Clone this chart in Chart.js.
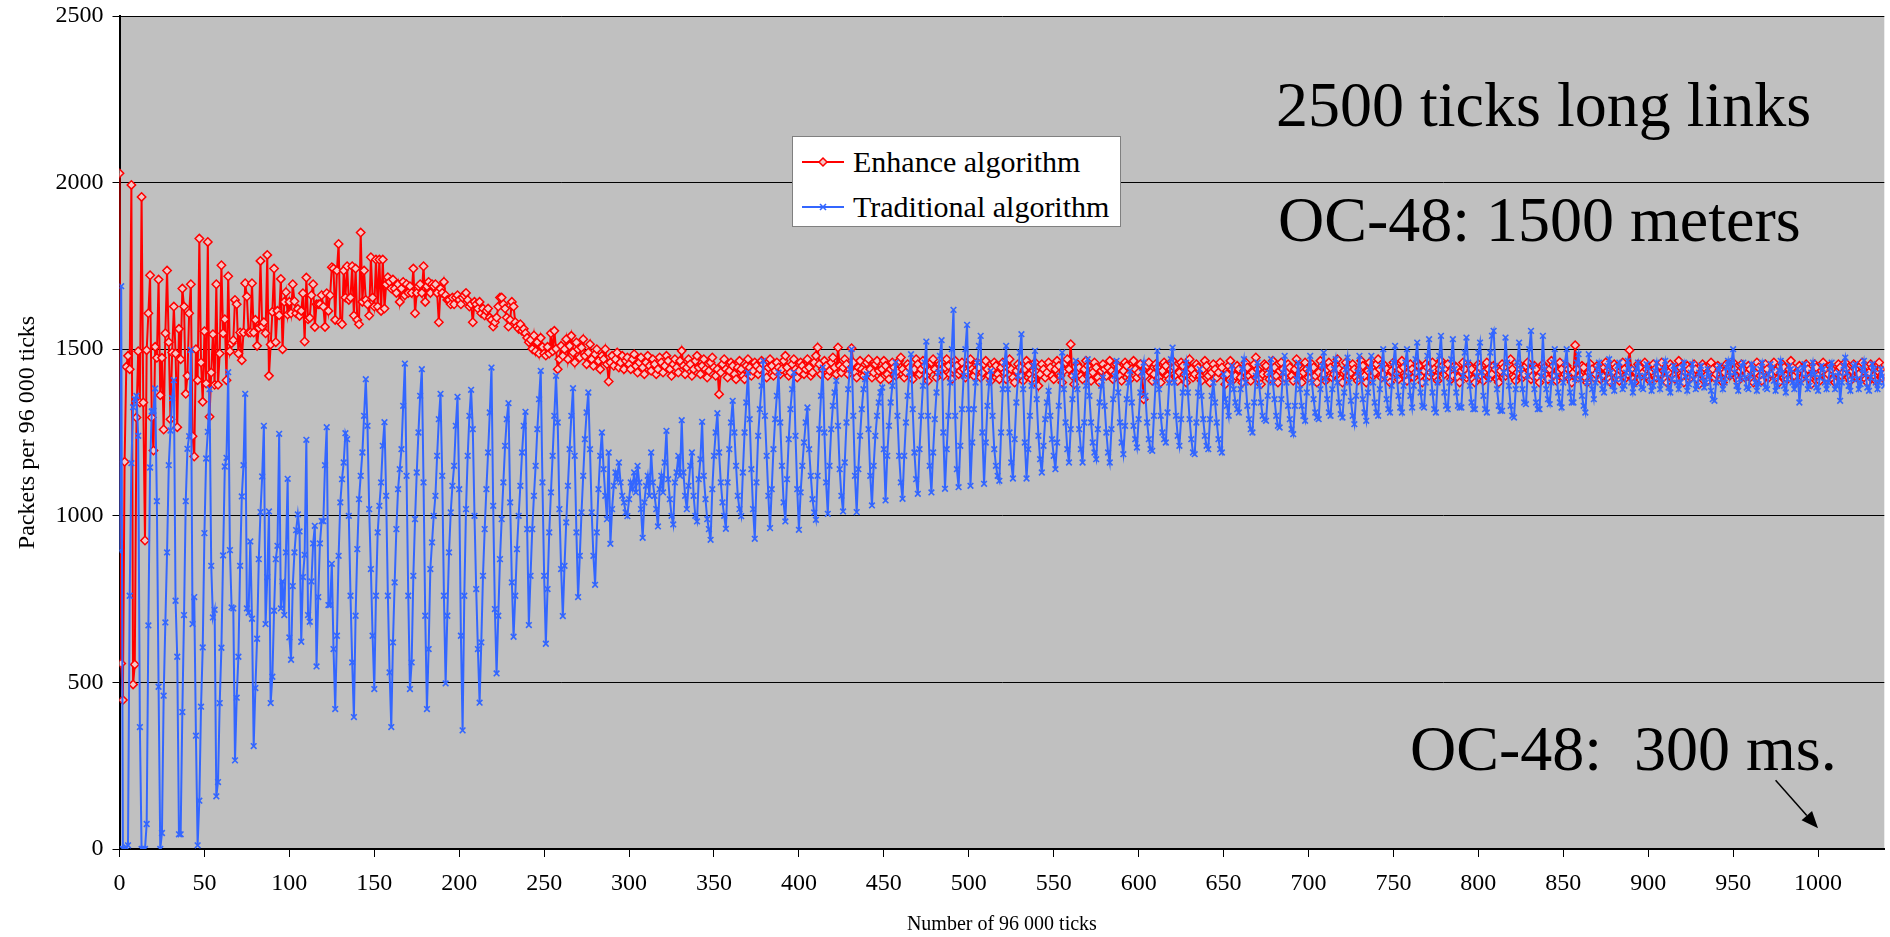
<!DOCTYPE html>
<html>
<head>
<meta charset="utf-8">
<title>Packets per 96 000 ticks</title>
<script src="https://cdn.jsdelivr.net/npm/chart.js@4.4.1/dist/chart.umd.min.js"></script>
<style>
  html, body { margin: 0; padding: 0; background: #fff; }
  #wrap { position: relative; width: 1890px; height: 937px; overflow: hidden;
          font-family: 'Liberation Serif', 'Times New Roman', serif; color: #000; }
  #chart { position: absolute; left: 0; top: 0; }
  .note { position: absolute; font-size: 64px; line-height: 64px; white-space: pre; }
  #legend { position: absolute; left: 792px; top: 136px; width: 329px; height: 91px;
            background: #fff; border: 1px solid #808080; box-sizing: border-box; }
  .item { position: absolute; left: 0; height: 30px; font-size: 30px; line-height: 30px; white-space: nowrap; }
  .item svg { position: absolute; left: 9px; top: 8px; }
  .item span { position: absolute; left: 60px; top: 0; }
</style>
</head>
<body>
<div id="wrap">
  <canvas id="chart" width="1890" height="937"></canvas>
  <div class="note" id="note1" style="left:1276px; top:73px;"></div>
  <div class="note" id="note2" style="left:1278px; top:188px;"></div>
  <div class="note" id="note3" style="left:1410px; top:717px;"></div>
  <div id="legend">
    <div class="item" style="top:10px;">
      <svg width="42" height="14"><line x1="0" y1="7" x2="42" y2="7" stroke="#ff0000" stroke-width="2"/><path d="M21 3 L25 7 L21 11 L17 7 Z" fill="#f4c6c6" stroke="#ff0000" stroke-width="1.5"/></svg>
      <span id="leg0"></span>
    </div>
    <div class="item" style="top:55px;">
      <svg width="42" height="14"><line x1="0" y1="7" x2="42" y2="7" stroke="#3366ff" stroke-width="2"/><path d="M18 4 L24 10 M24 4 L18 10" stroke="#3366ff" stroke-width="1.6"/></svg>
      <span id="leg1"></span>
    </div>
  </div>
</div>
<script>
// --- textes ---
const seriesNames = ['Enhance algorithm', 'Traditional algorithm'];
const xTitle = 'Number of 96 000 ticks';
const yTitle = 'Packets per 96 000 ticks';
const notes = ['2500 ticks long links', 'OC-48: 1500 meters', 'OC-48:  300 ms.'];

// --- axes ---
const xMax = 1039;
const xTickStep = 50;
const yMax = 2500;
const yTickStep = 500;

// flèche "300 ms." (départ / pointe, en unités du graphique)
const arrowFrom = [975, 206];
const arrowTo = [1000, 62];

// --- Enhance algorithm : un point par tick ---
const enhanceAlgorithm = [
  2028, 557, 447, 1162, 1447, 1480, 1440, 1993, 494, 554,
  1295, 1494, 1340, 1957, 1340, 926, 1497, 1608, 1722, 1295,
  1196, 1507, 1474, 1709, 1362, 1474, 1259, 1548, 1736, 1521,
  1290, 1490, 1628, 1487, 1266, 1561, 1470, 1682, 1628, 1366,
  1420, 1608, 1695, 1239, 1178, 1500, 1407, 1832, 1460, 1342,
  1554, 1397, 1822, 1297, 1430, 1545, 1393, 1695, 1393, 1487,
  1752, 1548, 1590, 1407, 1719, 1494, 1518, 1527, 1648, 1635,
  1487, 1550, 1467, 1550, 1698, 1658, 1550, 1550, 1698, 1550,
  1588, 1510, 1564, 1765, 1568, 1581, 1548, 1783, 1420, 1514,
  1612, 1742, 1521, 1615, 1602, 1711, 1500, 1642, 1671, 1604,
  1642, 1608, 1695, 1644, 1608, 1621, 1600, 1615, 1668, 1523,
  1715, 1590, 1594, 1662, 1695, 1567, 1635, 1635, 1635, 1662,
  1628, 1567, 1668, 1615, 1662, 1746,
  1742, 1588, 1736, 1816, 1581, 1575, 1736, 1655, 1749, 1648,
  1655, 1749, 1601, 1742, 1588, 1575, 1850, 1642, 1736, 1648,
  1635, 1601, 1776, 1655, 1628, 1769, 1628, 1769, 1615, 1769,
  1622, 1695, 1716, 1702, 1682, 1709, 1682, 1669, 1695, 1642,
  1682, 1702, 1662, 1695, 1669, 1689, 1669, 1742, 1608, 1669,
  1689, 1695, 1669, 1749, 1642, 1689, 1702, 1669, 1695, 1689,
  1695, 1669, 1581, 1682, 1669, 1702, 1662, 1648, 1648, 1635,
  1655, 1635, 1655, 1662, 1648, 1635, 1655, 1662, 1669, 1648,
  1628, 1635, 1581, 1642, 1635, 1622, 1642, 1608, 1622, 1601,
  1615, 1622, 1595, 1588, 1568, 1581, 1595, 1628, 1655, 1655,
  1635, 1622, 1595, 1568, 1588, 1642, 1628, 1581, 1568, 1561,
  1575, 1555, 1561, 1548, 1534, 1521, 1528, 1501, 1541, 1494,
  1521, 1487, 1534, 1507, 1487, 1481, 1507, 1487, 1548, 1494,
  1555, 1501, 1440, 1470, 1510, 1480,
  1500, 1530, 1470, 1510, 1540, 1490, 1460, 1520, 1500, 1475,
  1505, 1530, 1480, 1455, 1490, 1515, 1470, 1450, 1485, 1500,
  1465, 1440, 1480, 1470, 1500, 1455, 1403, 1460, 1480, 1450,
  1470, 1490, 1445, 1460, 1480, 1440, 1465, 1475,
  1455, 1440, 1470, 1485, 1450, 1430, 1460, 1475, 1445, 1425,
  1460, 1480, 1450, 1435, 1470, 1455, 1425, 1440, 1475, 1460,
  1430, 1450, 1480, 1465, 1440, 1420, 1455, 1470, 1445, 1430,
  1465, 1495, 1450, 1425, 1445, 1470, 1455, 1420, 1440, 1465,
  1480, 1445, 1425, 1450, 1470, 1440, 1415, 1435, 1460, 1475,
  1445, 1420, 1440, 1365, 1430, 1455, 1470, 1440, 1415, 1435,
  1460, 1450, 1425, 1410, 1445, 1465, 1440, 1420, 1410, 1450,
  1470, 1445, 1420, 1435, 1460, 1450, 1425, 1440, 1465, 1455,
  1430, 1415, 1445, 1470, 1450, 1420, 1435, 1460, 1445, 1425,
  1440, 1465, 1480, 1445, 1420, 1430, 1455, 1470, 1440, 1415,
  1435, 1460, 1450, 1425, 1440, 1470, 1445, 1420, 1430, 1460,
  1480, 1505, 1455, 1425, 1440, 1465, 1450, 1420, 1435, 1460,
  1475, 1445, 1425, 1505, 1450, 1430, 1445, 1470, 1455, 1425,
  1440, 1503, 1460, 1430, 1415, 1445, 1465, 1440, 1420, 1435,
  1460, 1470, 1440, 1415, 1430, 1455, 1465, 1435, 1410, 1440,
  1465, 1450, 1425, 1410, 1440, 1460, 1445, 1420, 1435, 1465,
  1475, 1440, 1415, 1430, 1455, 1445, 1420, 1410, 1440, 1470,
  1455, 1425, 1440, 1465, 1450, 1420, 1405, 1435, 1460, 1470,
  1440, 1415, 1430, 1455, 1440, 1420, 1445, 1470, 1450, 1425,
  1410, 1440, 1465, 1450, 1425, 1435, 1460, 1440, 1415, 1430,
  1455, 1470, 1440, 1420, 1435, 1460, 1445, 1415, 1430, 1455,
  1465, 1440, 1420, 1405, 1440, 1460, 1450, 1425, 1410, 1445,
  1460, 1430, 1410, 1445, 1470, 1440, 1415, 1400, 1435, 1455,
  1445, 1420, 1405, 1440, 1465, 1450, 1425, 1410, 1435, 1460,
  1430, 1390, 1425, 1455, 1440, 1415, 1430, 1460, 1445, 1420,
  1410, 1440, 1465, 1450, 1420, 1400, 1435, 1460, 1470, 1440,
  1515, 1420, 1395, 1430, 1455, 1445, 1420, 1410, 1440, 1465,
  1450, 1425, 1405, 1430, 1460, 1445, 1415, 1400, 1435, 1455,
  1440, 1420, 1445, 1465, 1435, 1410, 1425, 1455, 1445, 1420,
  1405, 1435, 1460, 1450, 1425, 1410, 1440, 1465, 1440, 1415,
  1430, 1455, 1420, 1350, 1420, 1450, 1460, 1430, 1405, 1425,
  1455, 1445, 1415, 1400, 1435, 1460, 1450, 1420, 1410, 1440,
  1465, 1445, 1420, 1405, 1430, 1460, 1450, 1425, 1400, 1435,
  1470, 1440, 1415, 1425, 1455, 1445, 1420, 1405, 1440, 1465,
  1450, 1420, 1400, 1430, 1455, 1440, 1415, 1430, 1460, 1445,
  1420, 1395, 1425, 1450, 1465, 1440, 1410, 1420, 1450, 1440,
  1415, 1400, 1435, 1460, 1445, 1420, 1405, 1430, 1455, 1475,
  1440, 1410, 1395, 1425, 1455, 1450, 1425, 1410, 1440, 1465,
  1445, 1420, 1400, 1435, 1460, 1440, 1415, 1430, 1455, 1445,
  1420, 1405, 1440, 1470, 1450, 1425, 1400, 1430, 1460, 1440,
  1415, 1435, 1455, 1445, 1420, 1400, 1430, 1465, 1450, 1425,
  1405, 1440, 1460, 1445, 1415, 1425, 1455, 1470, 1440, 1410,
  1400, 1435, 1460, 1445, 1420, 1430, 1455, 1440, 1415, 1405,
  1440, 1465, 1450, 1420, 1400, 1435, 1460, 1445, 1420, 1430,
  1455, 1470, 1440, 1415, 1425, 1450, 1440, 1415, 1400, 1435,
  1460, 1450, 1425, 1410, 1440, 1465, 1445, 1420, 1405, 1430,
  1455, 1440, 1415, 1430, 1460, 1450, 1420, 1400, 1435, 1455,
  1445, 1420, 1430, 1460, 1440, 1415, 1405, 1440, 1465, 1450,
  1425, 1440, 1455, 1430, 1410, 1420, 1450, 1445, 1415, 1400,
  1435, 1460, 1440, 1415, 1425, 1450, 1440, 1410, 1400, 1430,
  1455, 1445, 1420, 1405, 1435, 1460, 1440, 1415, 1425, 1450,
  1440, 1410, 1400, 1435, 1455, 1445, 1420, 1430, 1455, 1470,
  1440, 1415, 1405, 1430, 1455, 1440, 1415, 1425, 1450, 1460,
  1435, 1410, 1420, 1450, 1440, 1415, 1400, 1430, 1455, 1445,
  1420, 1410, 1440, 1465, 1450, 1420, 1405, 1435, 1460, 1440,
  1415, 1425, 1450, 1440, 1410, 1400, 1430, 1512, 1440, 1415,
  1420, 1450, 1445, 1415, 1400, 1430, 1455, 1440, 1415, 1425,
  1450, 1440, 1410, 1420, 1445, 1460, 1435, 1410, 1400, 1430,
  1455, 1445, 1420, 1405, 1435, 1460, 1440, 1415, 1425, 1497,
  1440, 1410, 1400, 1430, 1455, 1445, 1420, 1430, 1460, 1440,
  1415, 1405, 1435, 1455, 1440, 1415, 1425, 1450, 1460, 1435,
  1410, 1400, 1430, 1455, 1445, 1420, 1410, 1440, 1465, 1445,
  1420, 1400, 1430, 1450, 1440, 1415, 1425, 1455, 1440, 1410,
  1395, 1430, 1455, 1445, 1420, 1405, 1435, 1460, 1440, 1415,
  1425, 1450, 1440, 1410, 1400, 1430, 1455, 1445, 1420, 1430,
  1460, 1440, 1415, 1405, 1435, 1455, 1440, 1415, 1425, 1450,
  1440, 1410, 1400, 1430, 1460, 1445, 1420, 1405, 1435, 1455,
  1440, 1415, 1425, 1450, 1460, 1435, 1410, 1400, 1430, 1455,
  1445, 1420, 1410, 1440, 1465, 1445, 1420, 1400, 1430, 1450,
  1440, 1415, 1425, 1455, 1440, 1410, 1395, 1430, 1455, 1445,
  1420, 1405, 1435, 1460, 1440, 1415, 1425, 1450, 1440, 1410,
  1400, 1430, 1455, 1445, 1420, 1430, 1460, 1440, 1415, 1405,
  1435, 1455, 1440, 1415, 1425, 1450, 1460, 1435, 1410, 1400,
  1430, 1455, 1445, 1420, 1405, 1435, 1460, 1440, 1415, 1425
];

// --- Traditional algorithm : un point par tick ---
const traditionalAlgorithm = [
  894, 1689, 0, 0, 5, 11, 760, 1158, 1326, 1350,
  1360, 1240, 366, 0, 0, 0, 75, 671, 1145, 1313,
  1315, 1382, 1044, 487, 0, 48, 460, 680, 890, 1152,
  1256, 1353, 1407, 745, 577, 44, 44, 411, 702, 1044,
  1201, 1239, 1498, 675, 756, 340, 11, 145, 427, 605,
  948, 1172, 1252, 1380, 850, 695, 718, 158, 201, 438,
  604, 881, 1148, 1174, 1431, 897, 725, 722, 266, 454,
  577, 850, 1058, 1152, 1366, 722, 709, 923, 691, 309,
  483, 631, 870, 1011, 1118, 1270, 675, 816, 1013, 438,
  517, 715, 870, 910, 1246, 722, 803, 702, 890, 1111,
  635, 568, 789, 890, 957, 1004, 953, 622, 816, 883,
  1228, 702, 682, 803, 917, 970, 548, 756, 917, 984,
  984, 1152, 1266, 732, 732, 856, 600, 420, 640, 880,
  1040, 1110, 1160, 1248, 1230, 1000, 760, 560, 396,
  700, 900, 1050, 1120, 1190, 1300, 1410, 1270, 1020, 840, 640, 480,
  760, 950, 1030, 1100, 1210, 1281, 1060, 760, 530, 366,
  620, 800, 960, 1080, 1140, 1200, 1330, 1457, 1120, 760, 480,
  560, 820, 990, 1130, 1250, 1360, 1440, 1100, 700, 420,
  600, 840, 920, 1000, 1060, 1180, 1290, 1366, 1120, 760, 497,
  700, 890, 1010, 1090, 1150, 1270, 1357, 1080, 640, 356,
  760, 1020, 1180, 1300, 1378, 1260, 1000, 780, 600, 439,
  620, 820, 960, 1080, 1190, 1310, 1445, 1030, 720, 527,
  700, 870, 990, 1100, 1210, 1290, 1338, 1040, 800, 637,
  760, 900, 1000, 1090, 1190, 1270, 1312, 960, 672,
  820, 960, 1060, 1150, 1260, 1350, 1435, 1100, 820, 616,
  780, 950, 1070, 1180, 1300, 1420, 1280, 1020, 840, 699,
  850, 980, 1090, 1200, 1300, 1383, 1180, 950, 756,
  880, 1010, 1120, 1230, 1310, 1370, 1200, 1010, 880, 793,
  950, 1080, 1180, 1250, 1140, 1060, 990, 1190, 916, 1020,
  1090, 1130, 1110, 1160, 1100, 1060, 1040, 1010, 999,
  1050, 1100, 1080, 1130, 1070, 1150, 1100, 1020, 934, 1040,
  1090, 1120, 1060, 1190, 1100, 1060, 1020, 968, 1080, 1120,
  1070, 1160, 1255, 1110, 1050, 1000, 974, 1100, 1130, 1180,
  1120, 1287, 1130, 1060, 1020, 1090, 1150, 1190, 1060, 1000,
  983, 1110, 1170, 1282, 1120, 1050, 990, 960, 928, 1080,
  1180, 1250, 1308, 1190, 1100, 1040, 1000, 961, 1100, 1200,
  1280, 1345, 1250, 1150, 1060, 1020, 999, 1130, 1250, 1340,
  1430, 1290, 1140, 1020, 931, 1100, 1240, 1320, 1390, 1465,
  1300, 1180, 1060, 963, 1080, 1200, 1290, 1360, 1430, 1280,
  1150, 1040, 983, 1110, 1230, 1320, 1380, 1430, 1240, 1080,
  958, 1070, 1150, 1220, 1280, 1325, 1200, 1120, 1050, 1010,
  988, 1120, 1260, 1360, 1445, 1250, 1100, 1006, 1150, 1260,
  1330, 1370, 1405, 1270, 1140, 1060, 1013, 1160, 1280, 1380,
  1440, 1500, 1300, 1120, 1011, 1140, 1240, 1320, 1380, 1410,
  1425, 1260, 1120, 1031, 1150, 1240, 1300, 1340, 1370, 1385,
  1200, 1046, 1180, 1270, 1340, 1390, 1430, 1460, 1300, 1180,
  1100, 1051, 1180, 1280, 1360, 1430, 1485, 1320, 1190, 1110,
  1066, 1200, 1300, 1390, 1460, 1523, 1300, 1150, 1070, 1190,
  1290, 1370, 1430, 1480, 1527, 1250, 1081, 1200, 1300, 1400,
  1500, 1618, 1300, 1140, 1086, 1210, 1320, 1420, 1500, 1573,
  1320, 1090, 1220, 1320, 1400, 1460, 1510, 1540, 1250, 1096,
  1220, 1330, 1400, 1435, 1300, 1200, 1150, 1120, 1105, 1250,
  1380, 1460, 1510, 1380, 1250, 1160, 1112, 1230, 1340, 1420,
  1490, 1545, 1380, 1220, 1112, 1200, 1300, 1390, 1450, 1495,
  1350, 1240, 1170, 1130, 1210, 1290, 1340, 1375, 1300, 1230,
  1180, 1140, 1220, 1330, 1420, 1490, 1380, 1280, 1200, 1160,
  1260, 1350, 1420, 1465, 1380, 1260, 1200, 1160, 1280, 1390,
  1470, 1360, 1280, 1220, 1190, 1170, 1260, 1340, 1390, 1415,
  1330, 1250, 1190, 1160, 1260, 1350, 1420, 1465, 1370, 1280,
  1220, 1185, 1270, 1350, 1400, 1435, 1340, 1270, 1230, 1205,
  1290, 1370, 1430, 1460, 1360, 1280, 1230, 1200, 1195, 1300,
  1400, 1495, 1380, 1300, 1250, 1230, 1220, 1310, 1400, 1470,
  1505, 1400, 1300, 1240, 1210, 1290, 1370, 1430, 1460, 1370,
  1290, 1230, 1190, 1185, 1280, 1370, 1440, 1360, 1290, 1240,
  1210, 1200, 1290, 1360, 1400, 1340, 1280, 1230, 1200, 1190,
  1425, 1350, 1330, 1300, 1400, 1450, 1380, 1340, 1320, 1310,
  1380, 1440, 1470, 1400, 1330, 1290, 1260, 1250, 1340, 1420,
  1460, 1390, 1340, 1300, 1290, 1285, 1360, 1430, 1470, 1400,
  1350, 1300, 1270, 1265, 1350, 1430, 1480, 1400, 1330, 1290,
  1260, 1245, 1330, 1410, 1460, 1380, 1330, 1300, 1285, 1370,
  1440, 1480, 1400, 1350, 1310, 1295, 1290, 1380, 1450, 1490,
  1410, 1350, 1310, 1300, 1380, 1440, 1470, 1400, 1340, 1305,
  1295, 1370, 1440, 1475, 1400, 1345, 1300, 1275, 1360, 1430,
  1480, 1410, 1350, 1310, 1285, 1370, 1440, 1480, 1400, 1340,
  1310, 1300, 1380, 1450, 1500, 1410, 1350, 1320, 1310, 1390,
  1460, 1510, 1420, 1360, 1325, 1310, 1390, 1460, 1500, 1420,
  1360, 1325, 1390, 1470, 1520, 1430, 1370, 1330, 1325, 1400,
  1480, 1530, 1430, 1370, 1320, 1310, 1400, 1480, 1540, 1440,
  1370, 1330, 1320, 1400, 1470, 1530, 1440, 1370, 1330, 1325,
  1325, 1420, 1490, 1535, 1460, 1390, 1340, 1320, 1320, 1420,
  1490, 1520, 1430, 1360, 1320, 1310, 1410, 1490, 1540, 1555,
  1450, 1380, 1330, 1315, 1315, 1430, 1535, 1460, 1390, 1330,
  1300, 1295, 1380, 1460, 1520, 1440, 1380, 1340, 1335, 1420,
  1500, 1555, 1450, 1380, 1340, 1320, 1320, 1420, 1540, 1440,
  1380, 1350, 1335, 1400, 1460, 1500, 1420, 1370, 1340, 1325,
  1400, 1460, 1500, 1420, 1370, 1340, 1340, 1410, 1460, 1485,
  1410, 1360, 1330, 1310, 1400, 1485, 1420, 1380, 1350,
  1400, 1440, 1460, 1420, 1380, 1370, 1400, 1450, 1470, 1430,
  1390, 1375, 1410, 1450, 1460, 1410, 1380, 1390, 1430, 1465,
  1440, 1400, 1370, 1395, 1440, 1460, 1420, 1385, 1380, 1420,
  1455, 1445, 1400, 1375, 1390, 1435, 1460, 1415, 1380, 1400,
  1440, 1465, 1425, 1385, 1370, 1410, 1450, 1440, 1400, 1380,
  1400, 1445, 1460, 1420, 1375, 1395, 1430, 1455, 1410, 1380,
  1390, 1430, 1450, 1415, 1385, 1400, 1440, 1420, 1375, 1350,
  1345, 1400, 1440, 1450, 1410, 1380, 1400, 1445, 1465, 1420,
  1460, 1500, 1430, 1390, 1375, 1410, 1450, 1460, 1415, 1385,
  1380, 1420, 1455, 1440, 1400, 1375, 1395, 1440, 1460, 1420,
  1385, 1380, 1425, 1455, 1445, 1405, 1375, 1390, 1435, 1465,
  1430, 1390, 1370, 1410, 1450, 1440, 1400, 1380, 1395, 1440,
  1340, 1400, 1445, 1455, 1415, 1380, 1390, 1430, 1460, 1425,
  1385, 1375, 1415, 1450, 1440, 1400, 1380, 1400, 1445, 1460,
  1420, 1380, 1390, 1430, 1345, 1400, 1450, 1475, 1430, 1390,
  1375, 1410, 1450, 1455, 1410, 1380, 1395, 1440, 1465, 1425,
  1385, 1375, 1415, 1455, 1440, 1400, 1380, 1400, 1440, 1420, 1390
];

// tick (catégorie) de chaque point
const tickIndex = enhanceAlgorithm.map((_, i) => i);

document.getElementById('note1').textContent = notes[0];
document.getElementById('note2').textContent = notes[1];
document.getElementById('note3').textContent = notes[2];
document.getElementById('leg0').textContent = seriesNames[0];
document.getElementById('leg1').textContent = seriesNames[1];

Chart.defaults.font.family = "'Liberation Serif', 'Times New Roman', serif";
Chart.defaults.color = '#000';

// fond gris de la zone de tracé
const plotBackground = {
  id: 'plotBackground',
  beforeDraw(chart) {
    const { ctx, chartArea: a } = chart;
    ctx.save();
    ctx.fillStyle = '#c0c0c0';
    ctx.fillRect(a.left, a.top, a.right - a.left, a.bottom - a.top);
    ctx.restore();
  }
};

// flèche vers 1000 ticks
const arrowNote = {
  id: 'arrowNote',
  afterDraw(chart) {
    const { ctx, scales: { x, y } } = chart;
    const x1 = x.getPixelForValue(arrowFrom[0]), y1 = y.getPixelForValue(arrowFrom[1]);
    const x2 = x.getPixelForValue(arrowTo[0]), y2 = y.getPixelForValue(arrowTo[1]);
    const ang = Math.atan2(y2 - y1, x2 - x1);
    const head = 17, half = 7;
    const c = Math.cos(ang), s = Math.sin(ang);
    ctx.save();
    ctx.strokeStyle = '#000';
    ctx.fillStyle = '#000';
    ctx.lineWidth = 1.5;
    ctx.beginPath();
    ctx.moveTo(x1, y1);
    ctx.lineTo(x2 - head * c, y2 - head * s);
    ctx.stroke();
    ctx.beginPath();
    ctx.moveTo(x2, y2);
    ctx.lineTo(x2 - head * c + half * s, y2 - head * s - half * c);
    ctx.lineTo(x2 - head * c - half * s, y2 - head * s + half * c);
    ctx.closePath();
    ctx.fill();
    ctx.restore();
  }
};

new Chart(document.getElementById('chart'), {
  type: 'line',
  data: {
    datasets: [
      {
        label: seriesNames[0],
        data: enhanceAlgorithm.map((v, i) => ({ x: tickIndex[i], y: v })),
        borderColor: '#ff0000',
        borderWidth: 2,
        pointStyle: 'rectRot',
        pointRadius: 4.2,
        pointBorderWidth: 1.5,
        pointBorderColor: '#ff0000',
        pointBackgroundColor: '#f4c6c6',
        tension: 0,
        order: 2
      },
      {
        label: seriesNames[1],
        data: traditionalAlgorithm.map((v, i) => ({ x: tickIndex[i], y: v })),
        borderColor: '#3366ff',
        borderWidth: 2,
        pointStyle: 'crossRot',
        pointRadius: 4,
        pointBorderWidth: 1.6,
        pointBorderColor: '#3366ff',
        pointBackgroundColor: '#3366ff',
        tension: 0,
        order: 1
      }
    ]
  },
  options: {
    responsive: false,
    animation: false,
    devicePixelRatio: 1,
    layout: { padding: { top: 16, right: 0, bottom: 0, left: 0 } },
    plugins: {
      legend: { display: false },
      tooltip: { enabled: false }
    },
    scales: {
      x: {
        type: 'linear',
        min: 0,
        max: xMax,
        afterFit(scale) { scale.height = 88; },
        border: { color: '#000', width: 2 },
        grid: { drawOnChartArea: false, drawTicks: true, tickLength: 8, color: '#000', lineWidth: 1 },
        ticks: {
          stepSize: xTickStep,
          includeBounds: false,
          autoSkip: false,
          maxRotation: 0,
          padding: 12,
          font: { size: 24 },
          color: '#000',
          callback: v => String(v)
        },
        title: { display: true, text: xTitle, font: { size: 20 }, color: '#000', padding: { top: 0, bottom: 0 } }
      },
      y: {
        min: 0,
        max: yMax,
        // largeur fixe et pas de marge haute/basse pour les étiquettes
        afterFit(scale) { scale.width = 119.5; scale.paddingTop = 0; scale.paddingBottom = 0; },
        border: { color: '#000', width: 2 },
        grid: { color: '#000', lineWidth: 1, drawTicks: true, tickLength: 7 },
        ticks: {
          stepSize: yTickStep,
          padding: 9,
          font: { size: 24 },
          color: '#000',
          callback: v => String(v)
        },
        title: { display: true, text: yTitle, font: { size: 24 }, color: '#000', padding: { top: 13, bottom: 0 } }
      }
    }
  },
  plugins: [plotBackground, arrowNote]
});
</script>
</body>
</html>
